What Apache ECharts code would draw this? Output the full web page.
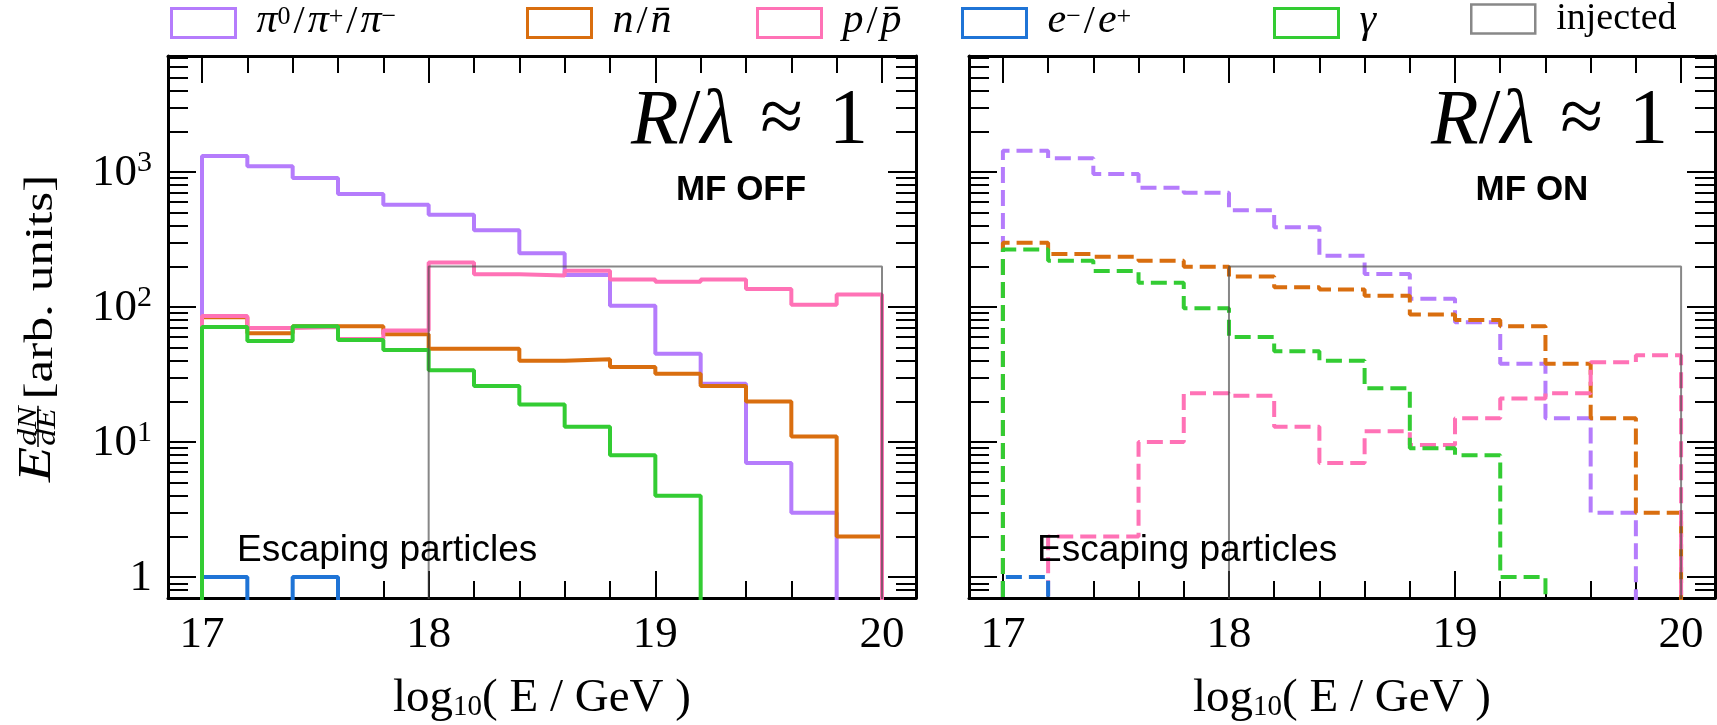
<!DOCTYPE html>
<html>
<head>
<meta charset="utf-8">
<title>Escaping particles</title>
<script src="https://cdn.jsdelivr.net/npm/echarts@6/dist/echarts.min.js"></script>
<style>
  html, body { margin: 0; padding: 0; background: #fff; }
  #chart { width: 1717px; height: 725px; }
</style>
</head>
<body>
<div id="chart"></div>
<script>
// bin edges, log10(E / GeV)
const edges = [17, 17.2, 17.4, 17.6, 17.8, 18, 18.2, 18.4, 18.6, 18.8, 19, 19.2, 19.4, 19.6, 19.8, 20]

// MF OFF (left panel)
const offPion = [1315, 1102, 903, 687, 572, 483, 370, 250, 173, 102, 45, 27, 7, 3, 0]
const offNeutron = [84, 64, 72, 72, 63, 49, 49, 40, 41, 36, 32, 26, 20, 11, 2]
const offProton = [86, 70, 71, 58, 67, 214, 175, 171, 186, 160, 154, 160, 136, 104, 124]
const offElectron = [1, 0, 1, 0, 0, 0, 0, 0, 0, 0, 0, 0, 0, 0, 0]
const offGamma = [71, 56, 72, 57, 48, 34, 26, 19, 13, 8, 4, 0, 0, 0, 0]

// MF ON (right panel)
const onPion = [1438, 1262, 967, 765, 703, 520, 389, 240, 176, 115, 77, 38, 15, 3, 0]
const onNeutron = [299, 247, 236, 220, 199, 168, 140, 135, 121, 88, 80, 72, 38, 15, 3]
const onProton = [0, 2, 2, 10, 23, 22, 13, 7, 12, 9.5, 15, 21, 23, 39, 44]
const onElectron = [1, 0, 0, 0, 0, 0, 0, 0, 0, 0, 0, 0, 0, 0, 0]
const onGamma = [267, 220, 185, 151, 98, 60, 47, 40, 25, 9, 8, 1, 0, 0, 0]

const injected = [0, 0, 0, 0, 0, 200, 200, 200, 200, 200, 200, 200, 200, 200, 200]

// ticks
const xMajorTicks = [17, 18, 19, 20]
const xMinorTicks = [17.2, 17.4, 17.6, 17.8, 18.2, 18.4, 18.6, 18.8, 19.2, 19.4, 19.6, 19.8]
const yMajorTicks = [1, 10, 100, 1000]
const yMinorTicks = [0.8, 0.9, 2, 3, 4, 5, 6, 7, 8, 9, 20, 30, 40, 50, 60, 70, 80, 90,
  200, 300, 400, 500, 600, 700, 800, 900, 2000, 3000, 4000, 5000, 6000, 7000]

const SERIF = '"Liberation Serif", "DejaVu Serif", serif'
const SANS = '"Liberation Sans", Arial, sans-serif'

const colors = {
  pion: '#b57cfc',
  neutron: '#d96e0f',
  proton: '#ff72b6',
  electron: '#1f74d6',
  gamma: '#33cc33',
  injected: '#888888'
}

const names = {
  pion: 'π0/π+/π−',
  neutron: 'n/n̄',
  proton: 'p/p̄',
  electron: 'e−/e+',
  gamma: 'γ',
  injected: 'injected'
}

const legendText = {
  pion: '{g|}{m|π}{s|0}{sl|/}{m|π}{s|+}{sl|/}{m|π}{s|−}',
  neutron: '{g|}{m|n}{sl|/}{m|n\u0304}',
  proton: '{g|}{m|p}{sl|/}{m|p\u0304}',
  electron: '{g|}{m|e}{s|−}{sl|/}{m|e}{s|+}',
  gamma: '{g|}{m|γ}',
  injected: '{g|}{r|injected}'
}

const xMin = 16.85
const xMax = 20.15
const yMin = 0.7
const yMax = 7230
const FLOOR = 0.1 // empty bins sit below the visible range

// histogram outline (matplotlib step style)
const stepPoints = (values) => {
  const pts = [[edges[0], FLOOR]]
  values.forEach((v, i) => {
    const y = v > 0 ? v : FLOOR
    pts.push([edges[i], y], [edges[i + 1], y])
  })
  pts.push([edges[edges.length - 1], FLOOR])
  return pts
}

const tickLine = { color: '#000', width: 2 }

const makeXAxes = (gridIndex) => {
  const base = { type: 'value', gridIndex, min: xMin, max: xMax, splitLine: { show: false } }
  return [
    {
      ...base,
      position: 'bottom',
      axisLine: { show: true, onZero: false, lineStyle: { color: '#000', width: 3 } },
      axisTick: { show: true, inside: true, length: 27, customValues: xMajorTicks, lineStyle: tickLine },
      axisLabel: {
        show: true, customValues: xMajorTicks, margin: 15,
        fontFamily: SERIF, fontSize: 45, color: '#000'
      },
      name: '{a|log}{b|10}{a|( E / GeV )}',
      nameLocation: 'middle',
      nameGap: 72,
      nameTextStyle: {
        rich: {
          a: { fontFamily: SERIF, fontSize: 47, lineHeight: 52, verticalAlign: 'bottom', color: '#000' },
          b: { fontFamily: SERIF, fontSize: 29, lineHeight: 28, verticalAlign: 'bottom', color: '#000' }
        }
      }
    },
    {
      ...base,
      position: 'bottom',
      axisLine: { show: false },
      axisTick: { show: true, inside: true, length: 17, customValues: xMinorTicks, lineStyle: tickLine },
      axisLabel: { show: false }
    },
    {
      ...base,
      position: 'top',
      axisLine: { show: true, onZero: false, lineStyle: { color: '#000', width: 3 } },
      axisTick: { show: true, inside: true, length: 27, customValues: xMajorTicks, lineStyle: tickLine },
      axisLabel: { show: false }
    },
    {
      ...base,
      position: 'top',
      axisLine: { show: false },
      axisTick: { show: true, inside: true, length: 17, customValues: xMinorTicks, lineStyle: tickLine },
      axisLabel: { show: false }
    }
  ]
}

const makeYAxes = (gridIndex, withLabels) => {
  const base = { type: 'log', logBase: 10, gridIndex, min: yMin, max: yMax, splitLine: { show: false } }
  return [
    {
      ...base,
      position: 'left',
      axisLine: { show: true, onZero: false, lineStyle: { color: '#000', width: 3 } },
      axisTick: { show: true, inside: true, length: 28, customValues: yMajorTicks, lineStyle: tickLine },
      axisLabel: {
        show: withLabels, customValues: yMajorTicks, margin: 16,
        formatter: (v) => {
          const p = Math.round(Math.log10(v))
          return p === 0 ? '{n|1}' : '{n|10}{s|' + p + '}'
        },
        rich: {
          n: { fontFamily: SERIF, fontSize: 45, lineHeight: 48, verticalAlign: 'bottom', color: '#000' },
          s: { fontFamily: SERIF, fontSize: 30, lineHeight: 26, verticalAlign: 'top', color: '#000' }
        }
      }
    },
    {
      ...base,
      position: 'left',
      axisLine: { show: false },
      axisTick: { show: true, inside: true, length: 20, customValues: yMinorTicks, lineStyle: tickLine },
      axisLabel: { show: false }
    },
    {
      ...base,
      position: 'right',
      axisLine: { show: true, onZero: false, lineStyle: { color: '#000', width: 3 } },
      axisTick: { show: true, inside: true, length: 28, customValues: yMajorTicks, lineStyle: tickLine },
      axisLabel: { show: false }
    },
    {
      ...base,
      position: 'right',
      axisLine: { show: false },
      axisTick: { show: true, inside: true, length: 20, customValues: yMinorTicks, lineStyle: tickLine },
      axisLabel: { show: false }
    }
  ]
}

const hist = (key, values, panel, dashed) => {
  const isInjected = key === 'injected'
  return {
    name: names[key],
    type: 'line',
    xAxisIndex: panel * 4,
    yAxisIndex: panel * 4,
    data: stepPoints(values),
    showSymbol: false,
    symbol: 'none',
    clip: true,
    silent: true,
    lineStyle: {
      color: isInjected ? 'rgba(70,70,70,0.65)' : colors[key],
      width: isInjected ? 2 : 4,
      type: dashed ? [16, 7] : 'solid'
    },
    itemStyle: { color: colors[key] }
  }
}

const series = [
  hist('pion', offPion, 0, false),
  hist('neutron', offNeutron, 0, false),
  hist('proton', offProton, 0, false),
  hist('electron', offElectron, 0, false),
  hist('gamma', offGamma, 0, false),
  hist('injected', injected, 0, false),
  hist('pion', onPion, 1, true),
  hist('neutron', onNeutron, 1, true),
  hist('proton', onProton, 1, true),
  hist('electron', onElectron, 1, true),
  hist('gamma', onGamma, 1, true),
  hist('injected', injected, 1, false)
]

const legendRich = {
  g: { width: 16 },
  m: { fontFamily: SERIF, fontStyle: 'italic', fontSize: 42, lineHeight: 38, verticalAlign: 'bottom', color: '#000' },
  sl: { fontFamily: SERIF, fontSize: 40, lineHeight: 38, verticalAlign: 'bottom', padding: [0, 3], color: '#000' },
  s: { fontFamily: SERIF, fontSize: 26, lineHeight: 24, verticalAlign: 'top', color: '#000' },
  r: { fontFamily: SERIF, fontSize: 38, lineHeight: 38, verticalAlign: 'bottom', color: '#000' }
}

const legendLeft = { pion: 170, neutron: 526, proton: 756, electron: 961, gamma: 1273, injected: 1470 }

const legends = Object.keys(legendLeft).map(key => ({
  data: [names[key]],
  left: legendLeft[key],
  top: 0,
  padding: 0,
  icon: 'rect',
  itemWidth: 64,
  itemHeight: 29,
  selectedMode: false,
  itemStyle: { color: '#fff', borderColor: colors[key], borderWidth: key === 'injected' ? 2.5 : 3 },
  formatter: () => legendText[key],
  textStyle: { rich: legendRich }
}))

const panelText = (xRight, xCenter, label) => [
  {
    type: 'text',
    x: xRight,
    y: 122,
    style: {
      text: '{i|R}{r|/}{i|λ}{a|≈}{r|1}',
      align: 'right',
      verticalAlign: 'middle',
      rich: {
        i: { fontFamily: SERIF, fontStyle: 'italic', fontSize: 78, fill: '#000' },
        r: { fontFamily: SERIF, fontSize: 78, fill: '#000' },
        a: { fontFamily: SERIF, fontSize: 78, padding: [0, 26], fill: '#000' }
      }
    }
  },
  {
    type: 'text',
    x: xCenter,
    y: 190,
    style: {
      text: label,
      fontFamily: SANS,
      fontWeight: 'bold',
      fontSize: 35,
      fill: '#000',
      align: 'center',
      verticalAlign: 'middle'
    }
  }
]

const escapingText = (x) => ({
  type: 'text',
  x,
  y: 551,
  z: 100,
  style: {
    text: 'Escaping particles',
    fontFamily: SANS,
    fontSize: 37,
    fill: '#000',
    align: 'left',
    verticalAlign: 'middle'
  }
})

// y axis title E dN/dE [arb. units], rotated
const yTitle = {
  type: 'group',
  x: 38,
  y: 482,
  rotation: Math.PI / 2,
  scaleX: 1.25,
  children: [
    { type: 'text', x: 0, y: 0, style: { text: 'E', fontFamily: SERIF, fontStyle: 'italic', fontSize: 46, fill: '#000', verticalAlign: 'middle' } },
    { type: 'text', x: 29, y: -9, style: { text: 'dN', fontFamily: SERIF, fontStyle: 'italic', fontSize: 27, fill: '#000', verticalAlign: 'middle' } },
    { type: 'line', shape: { x1: 28, y1: 0, x2: 61, y2: 0 }, style: { stroke: '#000', lineWidth: 1.5 } },
    { type: 'text', x: 29, y: 10, style: { text: 'dE', fontFamily: SERIF, fontStyle: 'italic', fontSize: 27, fill: '#000', verticalAlign: 'middle' } },
    { type: 'text', x: 66, y: 3, style: { text: '[arb. units]', fontFamily: SERIF, fontSize: 41, fill: '#000', verticalAlign: 'middle' } }
  ]
}

const chart = echarts.init(document.getElementById('chart'))

chart.setOption({
  animation: false,
  backgroundColor: '#fff',
  grid: [
    { left: 168, top: 56, width: 748, height: 542, containLabel: false, outerBoundsMode: 'none' },
    { left: 969, top: 56, width: 746, height: 542, containLabel: false, outerBoundsMode: 'none' }
  ],
  legend: legends,
  xAxis: [...makeXAxes(0), ...makeXAxes(1)],
  yAxis: [...makeYAxes(0, true), ...makeYAxes(1, false)],
  series,
  graphic: [
    ...panelText(868, 741, 'MF OFF'),
    ...panelText(1668, 1532, 'MF ON'),
    escapingText(237),
    escapingText(1037),
    yTitle
  ]
})

window.addEventListener('resize', () => chart.resize())
</script>
</body>
</html>
